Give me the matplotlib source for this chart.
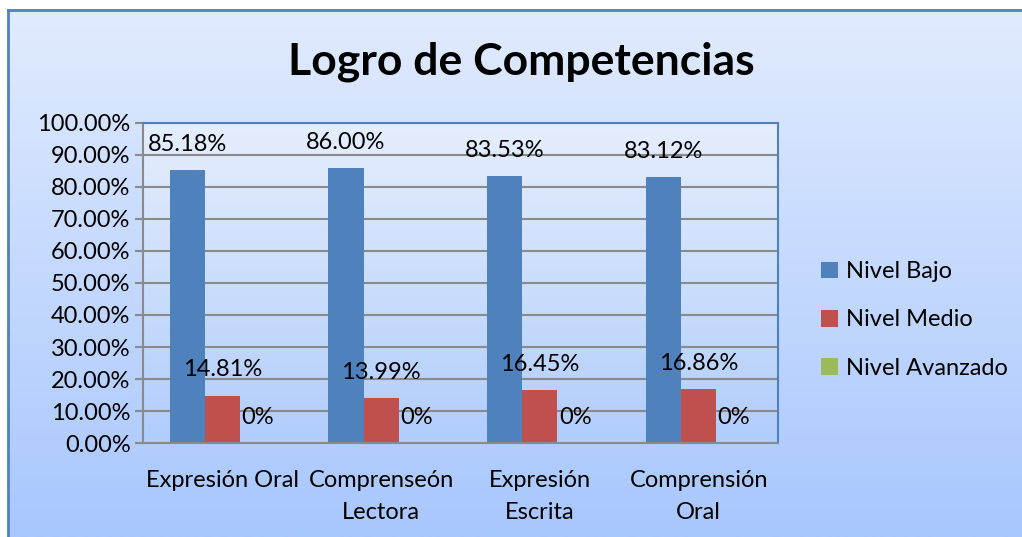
import numpy as np
import matplotlib.pyplot as plt
from matplotlib.colors import LinearSegmentedColormap

plt.rcParams['font.family'] = ['Lato', 'DejaVu Sans']

categories = ['Expresión Oral', 'Comprenseón\nLectora', 'Expresión\nEscrita', 'Comprensión\nOral']
bajo = [85.18, 86.00, 83.53, 83.12]
medio = [14.81, 13.99, 16.45, 16.86]
avanzado = [0, 0, 0, 0]
bajo_labels = ['85.18%', '86.00%', '83.53%', '83.12%']
medio_labels = ['14.81%', '13.99%', '16.45%', '16.86%']
avanzado_labels = ['0%', '0%', '0%', '0%']
series = ['Nivel Bajo', 'Nivel Medio', 'Nivel Avanzado']
colors = ['#4f81bd', '#c0504d', '#9bbb59']

W, H = 1022, 537
fs = 17
fig = plt.figure(figsize=(W / 100, H / 100), dpi=100)
fig.patch.set_facecolor('white')

# chart area gradient background
grad = LinearSegmentedColormap.from_list('bg', ['#e1ebfe', '#a8c7fd'])
bg = fig.add_axes([8 / W, 0, 1 - 8 / W, 1 - 10 / H])
bg.imshow(np.linspace(0, 1, 256).reshape(-1, 1), aspect='auto', cmap=grad,
          extent=[0, 1, 0, 1], origin='upper')
bg.set_xlim(0, 1)
bg.set_ylim(0, 1)
bg.set_xticks([])
bg.set_yticks([])
for s in ['right', 'bottom']:
    bg.spines[s].set_visible(False)
for s in ['left', 'top']:
    bg.spines[s].set_color('#4f81bd')
    bg.spines[s].set_linewidth(2)

fig.text(521 / W, 1 - 62 / H, 'Logro de Competencias', ha='center', va='center',
         fontsize=32, fontweight='bold', color='black')

# plot area
left, right, top, bottom = 143, 778, 123, 443
ax = fig.add_axes([left / W, 1 - bottom / H, (right - left) / W, (bottom - top) / H])
ax.set_facecolor('none')
pgrad = LinearSegmentedColormap.from_list('pa', ['#e6eefd', '#b0cdfb'])
ax.imshow(np.linspace(0, 1, 256).reshape(-1, 1), aspect='auto', cmap=pgrad,
          extent=[-0.5, 3.5, 0, 100], origin='upper', zorder=0)

x = np.arange(len(categories))
w = 0.222
ax.set_axisbelow(True)
ax.yaxis.grid(True, color='#8a8a8a', linewidth=1.5, zorder=1)
for i, (vals, labs) in enumerate([(bajo, bajo_labels), (medio, medio_labels), (avanzado, avanzado_labels)]):
    pos = x + (i - 1) * w
    ax.bar(pos, vals, w, color=colors[i], label=series[i], zorder=2)
    for px, v, lab in zip(pos, vals, labs):
        ax.annotate(lab, (px, v), xytext=(0, 18.5), textcoords='offset points',
                    ha='center', va='center', fontsize=fs, zorder=3)

ax.set_xlim(-0.5, 3.5)
ax.set_ylim(0, 100)
ax.set_yticks(np.arange(0, 101, 10))
ax.set_yticklabels(['%.2f%%' % t for t in np.arange(0, 101, 10)], fontsize=fs)
ax.set_xticks(x)
ax.set_xticklabels(categories, fontsize=fs, linespacing=1.62)
ax.tick_params(axis='x', length=0, pad=19.5)
ax.tick_params(axis='y', length=6, width=1.5, color='#8a8a8a', pad=3)
ax.spines['left'].set_color('#8a8a8a')
ax.spines['left'].set_linewidth(1.5)
for s in ['top', 'right', 'bottom']:
    ax.spines[s].set_color('#4f81bd')
    ax.spines[s].set_linewidth(1.5)
ax.spines['bottom'].set_color('#8a8a8a')

leg = fig.legend(loc='center left', bbox_to_anchor=(800 / W, 1 - 320 / H), frameon=False,
                 fontsize=fs, handlelength=0.7, handleheight=0.7, handletextpad=0.35,
                 labelspacing=1.15)

fig.savefig('out.png', dpi=100)
